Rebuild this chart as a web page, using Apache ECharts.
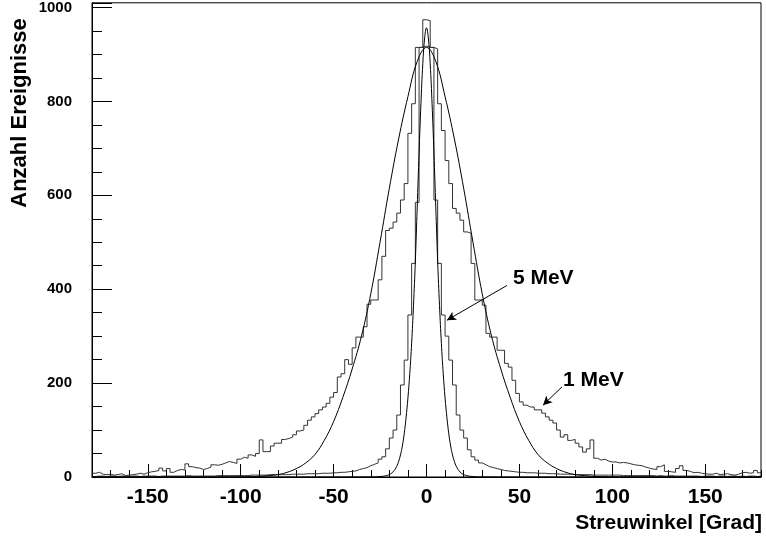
<!DOCTYPE html>
<html>
<head>
<meta charset="utf-8">
<script src="https://cdn.jsdelivr.net/npm/echarts/dist/echarts.min.js"></script>
<style>
  html, body { margin: 0; padding: 0; background: #fff; }
  #chart { width: 766px; height: 541px; }
</style>
</head>
<body>
<div id="chart"></div>
<script>
// Histogramme: 2-Grad-Bins von -180 bis 180 (Wert = Inhalt des Bins ab linker Kante)
var binStart = -180;
var binWidth = 2;

var counts1MeV = [
  // -180 .. -162
  8, 10, 6, 5, 6, 4, 5, 7, 3, 4,
  // -160 .. -142
  5, 6, 8, 6, 9, 11, 12, 14, 19, 13,
  // -140 .. -122
  18, 10, 14, 16, 15, 28, 22, 20, 19, 16,
  // -120 .. -102
  18, 21, 26, 25, 27, 30, 33, 31, 29, 38,
  // -100 .. -82
  42, 40, 47, 44, 50, 79, 54, 54, 66, 72,
  // -80 .. -62
  72, 80, 82, 85, 90, 98, 100, 110, 121, 128,
  // -60 .. -42
  135, 143, 149, 157, 170, 180, 213, 220, 250, 240,
  // -40 .. -22
  275, 298, 298, 320, 368, 377, 377, 420, 470, 525,
  // -20 .. -2
  530, 543, 562, 590, 625, 732, 795, 915, 915, 918,
  // 0 .. 18
  915, 915, 912, 795, 738, 674, 625, 572, 562, 547,
  // 20 .. 38
  522, 519, 455, 377, 377, 366, 306, 298, 298, 270,
  // 40 .. 58
  270, 242, 234, 206, 178, 160, 153, 149, 149, 143,
  // 60 .. 78
  143, 136, 128, 121, 115, 100, 85, 90, 78, 80,
  // 80 .. 98
  72, 64, 53, 60, 79, 40, 36, 38, 34, 32,
  // 100 .. 118
  32, 30, 31, 30, 28, 26, 25, 24, 21, 19,
  // 120 .. 138
  17, 16, 22, 26, 12, 11, 10, 18, 24, 14,
  // 140 .. 158
  12, 9, 10, 8, 7, 6, 6, 8, 5, 6,
  // 160 .. 178
  7, 5, 4, 6, 9, 10, 8, 9, 14, 9
];

var counts5MeV = [
  // -180 .. -162
  1, 2, 2, 1, 2, 2, 1, 2, 2, 1,
  // -160 .. -142
  2, 2, 1, 2, 2, 2, 2, 1, 2, 2,
  // -140 .. -122
  2, 2, 2, 2, 2, 3, 2, 2, 2, 2,
  // -120 .. -102
  2, 2, 2, 3, 3, 3, 3, 3, 3, 3,
  // -100 .. -82
  3, 3, 4, 4, 4, 4, 4, 5, 5, 5,
  // -80 .. -62
  5, 5, 5, 6, 6, 6, 6, 7, 7, 7,
  // -60 .. -42
  7, 8, 8, 8, 9, 9, 10, 10, 11, 12,
  // -40 .. -22
  13, 16, 18, 20, 24, 27, 30, 38, 43, 60,
  // -20 .. -2
  83, 100, 132, 196, 249, 345, 455, 585, 915, 974,
  // 0 .. 18
  972, 915, 590, 455, 345, 300, 249, 196, 132, 100,
  // 20 .. 38
  83, 58, 43, 36, 30, 26, 22, 20, 18, 16,
  // 40 .. 58
  14, 13, 12, 11, 10, 10, 9, 9, 9, 8,
  // 60 .. 78
  8, 8, 7, 7, 7, 6, 6, 6, 6, 5,
  // 80 .. 98
  5, 5, 5, 5, 4, 4, 4, 4, 4, 4,
  // 100 .. 118
  4, 4, 3, 3, 3, 3, 3, 3, 3, 3,
  // 120 .. 138
  3, 2, 3, 2, 2, 3, 2, 2, 2, 2,
  // 140 .. 158
  2, 2, 2, 1, 2, 2, 2, 1, 2, 2,
  // 160 .. 178
  1, 2, 2, 1, 2, 1, 2, 2, 1, 2
];

var fitAngles1MeV = [-180, -140, -100, -95, -90, -85, -80, -75, -70, -65, -60, -55, -50, -45, -40, -35, -30, -25, -20, -15, -10, -5,
  0, 5, 10, 15, 20, 25, 30, 35, 40, 45, 50, 55, 60, 65, 70, 75, 80, 85, 90, 95, 100, 140, 180];
var fit1MeV = [0, 0, 0, 0.5, 1.5, 3, 5, 10, 18, 30, 48, 78, 118, 170, 230, 300, 390, 500, 615, 720, 810, 885,
  915, 885, 810, 720, 615, 500, 390, 300, 230, 170, 118, 78, 48, 30, 18, 10, 5, 3, 1.5, 0.5, 0, 0, 0];

var fitAngles5MeV = [-180, -100, -60, -30, -25, -22, -20, -19, -18, -17, -16, -15, -14, -13, -12, -11, -10, -9, -8, -7, -6, -5, -4, -3, -2, -1,
  0, 1, 2, 3, 4, 5, 6, 7, 8, 9, 10, 11, 12, 13, 14, 15, 16, 17, 18, 19, 20, 22, 25, 30, 60, 100, 180];
var fit5MeV = [0, 0, 0, 0.2, 1, 2.5, 5, 7.5, 11, 16, 23, 33, 47, 66, 92, 126, 168, 220, 285, 365, 460, 575, 690, 795, 880, 935,
  957, 935, 880, 795, 690, 575, 460, 365, 285, 220, 168, 126, 92, 66, 47, 33, 23, 16, 11, 7.5, 5, 2.5, 1, 0.2, 0, 0, 0];

// Beschriftungen und Pfeile (Datenkoordinaten)
var label5MeV = [46.5, 423];
var label1MeV = [73.5, 206];
var arrow5MeV = [[43.3, 408], [11, 334]];
var arrow1MeV = [[72.9, 192], [62.7, 153]];

var xMin = -180, xMax = 180, yMax = 1010;
var plotLeft = 92, plotRight = 761, plotTop = 2, plotBottom = 477;
var W = 766, H = 541;
var pxPerDeg = (plotRight - plotLeft) / (xMax - xMin);
var font = '"Liberation Sans", Arial, Helvetica, sans-serif';

function histLine(counts) {
  var pts = [];
  for (var i = 0; i < counts.length; i++) {
    pts.push([binStart + i * binWidth, counts[i]]);
  }
  pts.push([binStart + counts.length * binWidth, counts[counts.length - 1]]);
  return pts;
}
function curve(xs, ys) {
  return xs.map(function (x, i) { return [x, ys[i]]; });
}

var chart = echarts.init(document.getElementById('chart'));
var option = {
  animation: false,
  backgroundColor: '#fff',
  textStyle: { fontFamily: font },
  grid: [
    { left: plotLeft, right: W - plotRight, top: plotTop, bottom: H - plotBottom,
      show: true, borderColor: '#000', borderWidth: 1, backgroundColor: 'transparent' },
    { left: plotLeft + (-150 - xMin) * pxPerDeg, right: W - (plotLeft + (150 - xMin) * pxPerDeg),
      top: plotTop, bottom: H - plotBottom }
  ],
  xAxis: [
    { type: 'value', gridIndex: 0, min: xMin, max: xMax, interval: 10,
      axisLine: { show: true, onZero: false, lineStyle: { color: '#000', width: 1 } },
      axisTick: { show: true, inside: true, length: 7, lineStyle: { color: '#000' } },
      axisLabel: { show: false }, splitLine: { show: false } },
    { type: 'value', gridIndex: 1, min: -150, max: 150, interval: 50,
      axisLine: { show: false, onZero: false },
      axisTick: { show: true, inside: true, length: 13, lineStyle: { color: '#000' } },
      axisLabel: { show: true, color: '#000', fontSize: 21, fontWeight: 'bold', fontFamily: font, margin: 10 },
      splitLine: { show: false } }
  ],
  yAxis: [
    { type: 'value', gridIndex: 0, position: 'left', min: 0, max: yMax, interval: 50,
      axisLine: { show: true, onZero: false, lineStyle: { color: '#000', width: 1 } },
      axisTick: { show: true, inside: true, length: 10, lineStyle: { color: '#000' } },
      axisLabel: { show: false }, splitLine: { show: false } },
    { type: 'value', gridIndex: 0, position: 'left', min: 0, max: yMax, interval: 200,
      axisLine: { show: false, onZero: false },
      axisTick: { show: true, inside: true, length: 20, lineStyle: { color: '#000' } },
      axisLabel: { show: true, color: '#000', fontSize: 15, fontWeight: 'bold', fontFamily: font, margin: 20,
        formatter: function (v) { return v % 200 === 0 ? String(v) : ''; } },
      splitLine: { show: false } },
    { type: 'value', gridIndex: 1, show: false, min: 0, max: 1 }
  ],
  series: [
    { name: '1 MeV', type: 'line', xAxisIndex: 0, yAxisIndex: 0, step: 'end',
      data: histLine(counts1MeV), symbol: 'none', lineStyle: { color: '#333', width: 1 }, silent: true,
      markLine: {
        silent: true, symbol: ['none', 'arrow'], symbolSize: [7, 9],
        lineStyle: { color: '#000', width: 1, type: 'solid' }, label: { show: false },
        data: [[{ coord: arrow1MeV[0] }, { coord: arrow1MeV[1] }]]
      },
      markPoint: {
        silent: true, symbol: 'circle', symbolSize: 0,
        label: { show: true, position: 'right', distance: 0, color: '#000', fontSize: 21, fontWeight: 'bold', fontFamily: font },
        data: [{ coord: label1MeV, label: { formatter: '1 MeV' } }]
      } },
    { name: '5 MeV', type: 'line', xAxisIndex: 0, yAxisIndex: 0, step: 'end',
      data: histLine(counts5MeV), symbol: 'none', lineStyle: { color: '#333', width: 1 }, silent: true,
      markLine: {
        silent: true, symbol: ['none', 'arrow'], symbolSize: [7, 9],
        lineStyle: { color: '#000', width: 1, type: 'solid' }, label: { show: false },
        data: [[{ coord: arrow5MeV[0] }, { coord: arrow5MeV[1] }]]
      },
      markPoint: {
        silent: true, symbol: 'circle', symbolSize: 0,
        label: { show: true, position: 'right', distance: 0, color: '#000', fontSize: 21, fontWeight: 'bold', fontFamily: font },
        data: [{ coord: label5MeV, label: { formatter: '5 MeV' } }]
      } },
    { name: 'Fit 1 MeV', type: 'line', xAxisIndex: 0, yAxisIndex: 0, smooth: 0.4,
      data: curve(fitAngles1MeV, fit1MeV), symbol: 'none', lineStyle: { color: '#000', width: 1 }, silent: true },
    { name: 'Fit 5 MeV', type: 'line', xAxisIndex: 0, yAxisIndex: 0, smooth: 0.4,
      data: curve(fitAngles5MeV, fit5MeV), symbol: 'none', lineStyle: { color: '#000', width: 1 }, silent: true }
  ],
  graphic: [
    { type: 'text', x: 762, y: 523, silent: true,
      style: { text: 'Streuwinkel [Grad]', font: 'bold 21px ' + font, fill: '#000',
        align: 'right', verticalAlign: 'middle', textAlign: 'right', textVerticalAlign: 'middle' } },
    { type: 'text', x: 20, y: 113, rotation: Math.PI / 2, silent: true,
      style: { text: 'Anzahl Ereignisse', font: 'bold 22px ' + font, fill: '#000',
        align: 'center', verticalAlign: 'middle', textAlign: 'center', textVerticalAlign: 'middle' } }
  ]
};
chart.setOption(option);
</script>
</body>
</html>
